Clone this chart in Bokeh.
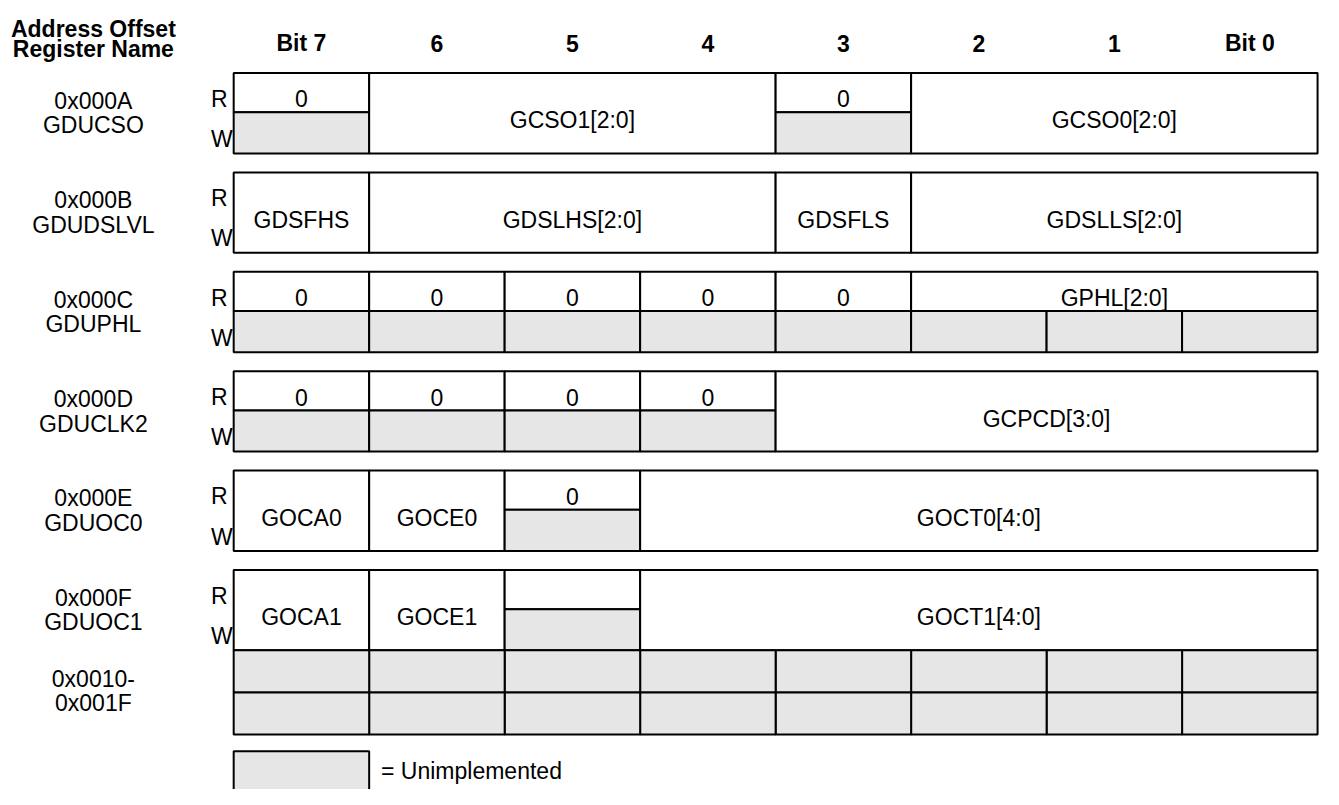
from bokeh.plotting import figure
from bokeh.models import Range1d, ColumnDataSource
from bokeh.embed import file_html
from bokeh.resources import INLINE
from bokeh.core.properties import value

# ---------------- data ----------------
header_left = ["Address Offset", "Register Name"]
bit_labels = ["Bit 7", "6", "5", "4", "3", "2", "1", "Bit 0"]
reg_offsets = ["0x000A", "0x000B", "0x000C", "0x000D", "0x000E", "0x000F"]
reg_names = ["GDUCSO", "GDUDSLVL", "GDUPHL", "GDUCLK2", "GDUOC0", "GDUOC1"]

# fields: (label, high bit, low bit, part "RW"/"R"/"W", unimplemented)
f_gducso = [("0", 7, 7, "R", False), ("", 7, 7, "W", True),
            ("GCSO1[2:0]", 6, 4, "RW", False),
            ("0", 3, 3, "R", False), ("", 3, 3, "W", True),
            ("GCSO0[2:0]", 2, 0, "RW", False)]
f_gdudslvl = [("GDSFHS", 7, 7, "RW", False), ("GDSLHS[2:0]", 6, 4, "RW", False),
              ("GDSFLS", 3, 3, "RW", False), ("GDSLLS[2:0]", 2, 0, "RW", False)]
f_gduphl = [("0", 7, 7, "R", False), ("0", 6, 6, "R", False), ("0", 5, 5, "R", False),
            ("0", 4, 4, "R", False), ("0", 3, 3, "R", False), ("GPHL[2:0]", 2, 0, "R", False),
            ("", 7, 7, "W", True), ("", 6, 6, "W", True), ("", 5, 5, "W", True),
            ("", 4, 4, "W", True), ("", 3, 3, "W", True), ("", 2, 2, "W", True),
            ("", 1, 1, "W", True), ("", 0, 0, "W", True)]
f_gduclk2 = [("0", 7, 7, "R", False), ("0", 6, 6, "R", False), ("0", 5, 5, "R", False),
             ("0", 4, 4, "R", False),
             ("", 7, 7, "W", True), ("", 6, 6, "W", True), ("", 5, 5, "W", True),
             ("", 4, 4, "W", True),
             ("GCPCD[3:0]", 3, 0, "RW", False)]
f_gduoc0 = [("GOCA0", 7, 7, "RW", False), ("GOCE0", 6, 6, "RW", False),
            ("0", 5, 5, "R", False), ("", 5, 5, "W", True),
            ("GOCT0[4:0]", 4, 0, "RW", False)]
f_gduoc1 = [("GOCA1", 7, 7, "RW", False), ("GOCE1", 6, 6, "RW", False),
            ("", 5, 5, "R", False), ("", 5, 5, "W", True),
            ("GOCT1[4:0]", 4, 0, "RW", False)]
reg_fields = [f_gducso, f_gdudslvl, f_gduphl, f_gduclk2, f_gduoc0, f_gduoc1]

reserved_offset = ["0x0010-", "0x001F"]
reserved_rows = 2
legend_text = "= Unimplemented"

# ---------------- layout (in reference-image units) ----------------
W, H = 1323, 789
REF_W, REF_H = 1339, 805
LEFT, RIGHT = 236, 1333
COL_W = (RIGHT - LEFT) / 8
TOP0, PITCH = 74, 101.4
R_H, W_H = 40, 42
RES_H = 43
GREY = "#e6e6e6"
FONT = value("Liberation Sans")
FS = value("23px")
CAP = 8.4  # baseline offset below cap centre

def bx0(hi):
    return LEFT + (7 - hi) * COL_W

def bx1(lo):
    return LEFT + (8 - lo) * COL_W

p = figure(width=W, height=H, x_range=Range1d(0, REF_W), y_range=Range1d(REF_H, 0),
           output_backend="svg", toolbar_location=None, min_border=0)
p.axis.visible = False
p.grid.visible = False
p.outline_line_color = None
p.background_fill_color = "white"

# R / W labels
rw_x, rw_y, rw_t = [], [], []
for i in range(len(reg_names)):
    top = TOP0 + i * PITCH
    rw_x += [213, 213]
    rw_y += [top + 18 + CAP, top + 59 + CAP]
    rw_t += ["R", "W"]
p.text(x=rw_x, y=rw_y, text=rw_t, text_align="left", text_baseline="alphabetic",
       text_font=FONT, text_font_size=FS, text_color="black")

# cells
cx0, cx1, cy0, cy1, cfill = [], [], [], [], []
lx, ly, lt = [], [], []
for i, fields in enumerate(reg_fields):
    top = TOP0 + i * PITCH
    for (lab, hi, lo, part, unimp) in fields:
        if part == "RW":
            y0, y1 = top, top + R_H + W_H
            yc = top + 40
        elif part == "R":
            y0, y1 = top, top + R_H
            yc = top + 18
        else:
            y0, y1 = top + R_H, top + R_H + W_H
            yc = top + R_H + 20
        cx0.append(bx0(hi)); cx1.append(bx1(lo)); cy0.append(y0); cy1.append(y1)
        cfill.append(GREY if unimp else "white")
        if lab:
            lx.append((bx0(hi) + bx1(lo)) / 2); ly.append(yc + CAP); lt.append(lab)

res_top = TOP0 + (len(reg_names) - 1) * PITCH + R_H + W_H
for r in range(reserved_rows):
    for b in range(8):
        cx0.append(bx0(b)); cx1.append(bx1(b))
        cy0.append(res_top + r * RES_H); cy1.append(res_top + (r + 1) * RES_H)
        cfill.append(GREY)

# legend box (runs off the bottom edge, as in the reference)
leg_top = res_top + reserved_rows * RES_H + 17
cx0.append(bx0(7)); cx1.append(bx1(7)); cy0.append(leg_top); cy1.append(leg_top + 60)
cfill.append(GREY)

src = ColumnDataSource(dict(left=cx0, right=cx1, top=cy0, bottom=cy1, fill=cfill))
p.quad(left="left", right="right", top="top", bottom="bottom", source=src,
       fill_color="fill", line_color="black", line_width=2)

p.text(x=lx, y=ly, text=lt, text_align="center", text_baseline="alphabetic",
       text_font=FONT, text_font_size=FS, text_color="black")

# legend text
p.text(x=[bx1(7) + 12], y=[leg_top + 12 + CAP], text=[legend_text], text_align="left",
       text_baseline="alphabetic", text_font=FONT, text_font_size=FS, text_color="black")

# left column labels
ax, ay, at = [], [], []
for i in range(len(reg_names)):
    top = TOP0 + i * PITCH
    ax += [94, 94]
    ay += [top + 20 + CAP, top + 45 + CAP]
    at += [reg_offsets[i], reg_names[i]]
ax += [94, 94]
ay += [res_top + 21 + CAP, res_top + 45 + CAP]
at += reserved_offset
p.text(x=ax, y=ay, text=at, text_align="center", text_baseline="alphabetic",
       text_font=FONT, text_font_size=FS, text_color="black")

# header
hx = [94, 94] + [(bx0(7 - k) + bx1(7 - k)) / 2 for k in range(8)]
hy = [21 + CAP, 41 + CAP] + [35 + CAP] * 8
ht = header_left + bit_labels
p.text(x=hx, y=hy, text=ht, text_align="center", text_baseline="alphabetic",
       text_font=FONT, text_font_size=FS, text_font_style="bold", text_color="black")

open("out.html", "w").write(file_html(p, INLINE))
